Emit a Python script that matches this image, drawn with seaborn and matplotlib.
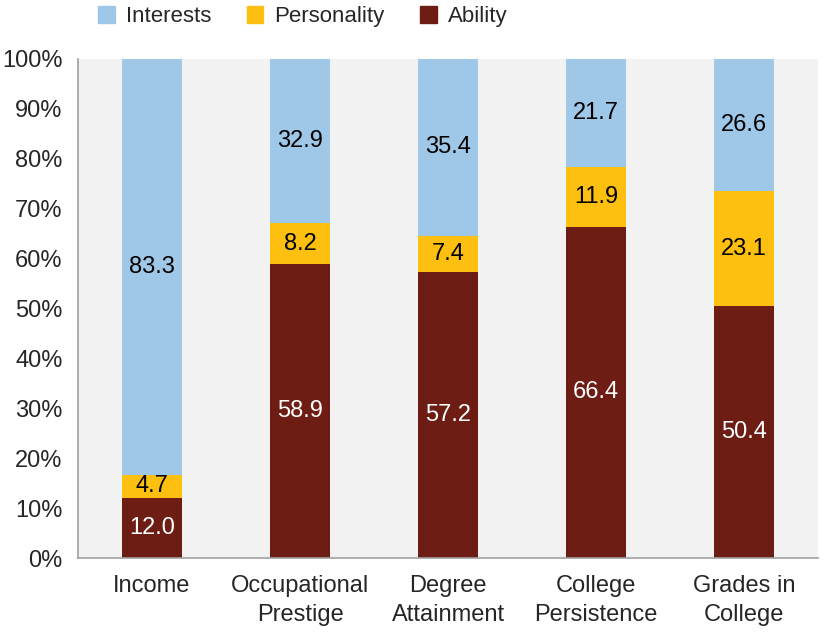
import numpy as np
import pandas as pd
import matplotlib
matplotlib.use('Agg')
import matplotlib.pyplot as plt
import seaborn as sns
from matplotlib.patches import Patch

categories = ['Income', 'Occupational\nPrestige', 'Degree\nAttainment',
              'College\nPersistence', 'Grades in\nCollege']
ability = [12.0, 58.9, 57.2, 66.4, 50.4]
personality = [4.7, 8.2, 7.4, 11.9, 23.1]
interests = [83.3, 32.9, 35.4, 21.7, 26.6]
yticks = list(range(0, 101, 10))

c_int = '#9fc8e8'
c_per = '#fec010'
c_abl = '#6d1d14'

sns.set_style('white')
plt.rcParams['font.family'] = ['Liberation Sans', 'DejaVu Sans']

df = pd.DataFrame({'cat': categories, 'ability': ability,
                   'personality': personality, 'interests': interests})
df['top2'] = df.ability + df.personality
df['total'] = df.top2 + df.interests

fig = plt.figure(figsize=(8.26, 6.32), dpi=100)
ax = fig.add_axes([0.0944, 0.117, 0.896, 0.79])
ax.set_facecolor('#f2f2f2')

# stacked by overdrawing cumulative heights
bar_kw = dict(x='cat', width=0.41, saturation=1, linewidth=0, ax=ax)
sns.barplot(data=df, y='total', color=c_int, **bar_kw)
sns.barplot(data=df, y='top2', color=c_per, **bar_kw)
sns.barplot(data=df, y='ability', color=c_abl, **bar_kw)

for i, row in df.iterrows():
    ax.text(i, row.ability / 2, '{:.1f}'.format(row.ability), ha='center', va='center',
            color='white', fontsize=17)
    ax.text(i, row.ability + row.personality / 2, '{:.1f}'.format(row.personality),
            ha='center', va='center', color='black', fontsize=17)
    ax.text(i, row.top2 + row.interests / 2, '{:.1f}'.format(row.interests),
            ha='center', va='center', color='black', fontsize=17)

ax.set_xlim(-0.5, 4.5)
ax.set_ylim(0, 100)
ax.set_yticks(yticks)
ax.set_yticklabels(['{}%'.format(t) for t in yticks], fontsize=17)
ax.set_xticks(range(len(categories)))
ax.set_xticklabels(categories, fontsize=17, linespacing=1.4)
ax.set_xticks(np.arange(-0.5, 5, 1), minor=True)
ax.tick_params(axis='x', which='major', length=0, pad=12)
ax.tick_params(axis='x', which='minor', length=8, color='#a0a0a0', width=1.2)
ax.tick_params(axis='y', length=6, color='#a0a0a0', width=1.2, pad=5)
ax.set_xlabel('')
ax.set_ylabel('')

for s in ['top', 'right']:
    ax.spines[s].set_visible(False)
for s in ['left', 'bottom']:
    ax.spines[s].set_color('#a0a0a0')
    ax.spines[s].set_linewidth(1.2)

handles = [Patch(color=c_int, label='Interests'),
           Patch(color=c_per, label='Personality'),
           Patch(color=c_abl, label='Ability')]
ax.legend(handles=handles, loc='center', bbox_to_anchor=(0.304, 1.084), ncol=3,
          frameon=False, fontsize=16, handlelength=0.75, handleheight=0.75,
          columnspacing=1.6, handletextpad=0.5)

plt.savefig('out.png', dpi=100)
plt.close()
